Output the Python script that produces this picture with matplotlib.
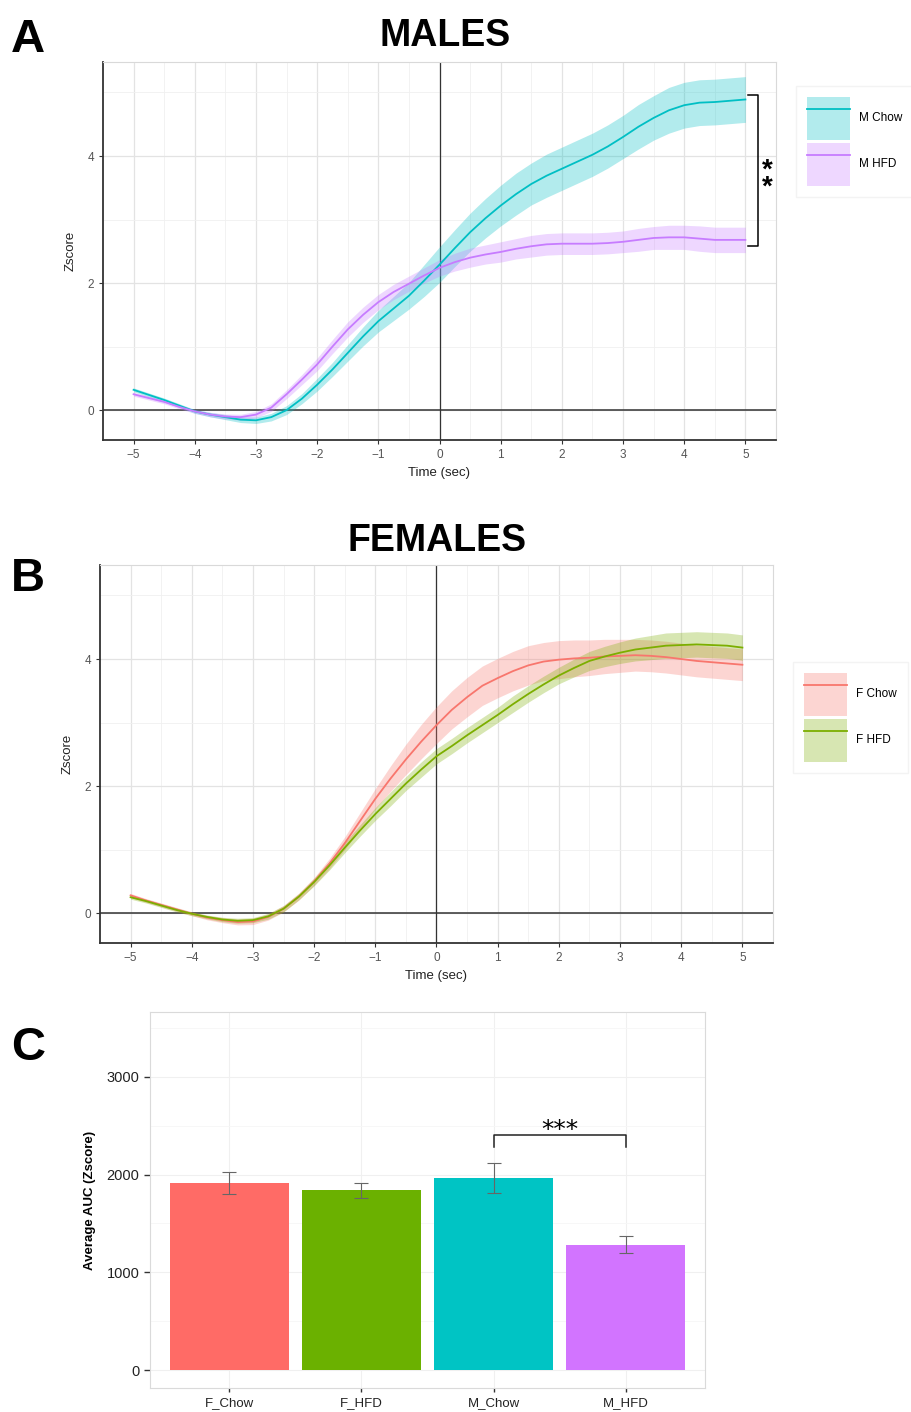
import matplotlib.pyplot as plt
from matplotlib.patches import Patch
from matplotlib.lines import Line2D
from matplotlib.ticker import MultipleLocator
import numpy as np

plt.rcParams['font.family'] = ['Liberation Sans', 'DejaVu Sans']

# time axis of the smoothed traces (sec)
time = [-5, -4.75, -4.5, -4.25, -4, -3.75, -3.5, -3.25, -3, -2.75, -2.5,
        -2.25, -2, -1.75, -1.5, -1.25, -1, -0.75, -0.5, -0.25, 0,
        0.25, 0.5, 0.75, 1, 1.25, 1.5, 1.75, 2, 2.25, 2.5,
        2.75, 3, 3.25, 3.5, 3.75, 4, 4.25, 4.5, 4.75, 5]

# males: mean z-score and band half width
m_chow = [0.32, 0.24, 0.16, 0.07, -0.02, -0.07, -0.11, -0.15, -0.16, -0.11, 0.00,
          0.18, 0.40, 0.64, 0.90, 1.16, 1.40, 1.60, 1.80, 2.04, 2.29,
          2.55, 2.80, 3.02, 3.22, 3.40, 3.56, 3.69, 3.80, 3.91, 4.02,
          4.15, 4.30, 4.46, 4.60, 4.72, 4.80, 4.84, 4.85, 4.87, 4.89]
m_chow_se = [0.03, 0.03, 0.03, 0.03, 0.03, 0.035, 0.04, 0.045, 0.05, 0.06, 0.07,
             0.08, 0.10, 0.11, 0.13, 0.15, 0.17, 0.19, 0.21, 0.25, 0.28,
             0.29, 0.30, 0.31, 0.32, 0.33, 0.33, 0.34, 0.34, 0.34, 0.34,
             0.34, 0.34, 0.35, 0.35, 0.36, 0.36, 0.36, 0.36, 0.36, 0.36]
m_hfd = [0.25, 0.19, 0.13, 0.05, -0.02, -0.07, -0.10, -0.11, -0.07, 0.04, 0.25,
         0.48, 0.72, 1.00, 1.27, 1.50, 1.70, 1.86, 1.99, 2.12, 2.24,
         2.33, 2.40, 2.45, 2.49, 2.54, 2.58, 2.61, 2.62, 2.62, 2.62,
         2.63, 2.65, 2.68, 2.71, 2.72, 2.72, 2.70, 2.68, 2.68, 2.68]
m_hfd_se = [0.03, 0.03, 0.03, 0.03, 0.03, 0.035, 0.04, 0.045, 0.05, 0.06, 0.07,
            0.08, 0.10, 0.11, 0.12, 0.12, 0.12, 0.12, 0.12, 0.12, 0.13,
            0.14, 0.15, 0.15, 0.16, 0.16, 0.17, 0.17, 0.17, 0.17, 0.17,
            0.17, 0.17, 0.18, 0.18, 0.19, 0.19, 0.20, 0.20, 0.20, 0.20]

# females
f_chow = [0.28, 0.20, 0.13, 0.06, -0.01, -0.07, -0.11, -0.14, -0.13, -0.06, 0.07,
          0.26, 0.50, 0.78, 1.10, 1.45, 1.80, 2.12, 2.42, 2.70, 2.96,
          3.20, 3.40, 3.58, 3.70, 3.81, 3.90, 3.96, 3.99, 4.01, 4.02,
          4.04, 4.05, 4.06, 4.05, 4.03, 4.00, 3.97, 3.95, 3.93, 3.91]
f_chow_se = [0.03, 0.03, 0.03, 0.03, 0.03, 0.035, 0.04, 0.045, 0.05, 0.05, 0.05,
             0.055, 0.06, 0.08, 0.10, 0.13, 0.16, 0.20, 0.24, 0.27, 0.29,
             0.30, 0.31, 0.31, 0.31, 0.31, 0.31, 0.30, 0.30, 0.29, 0.28,
             0.27, 0.26, 0.25, 0.25, 0.25, 0.25, 0.25, 0.25, 0.25, 0.25]
f_hfd = [0.25, 0.19, 0.12, 0.05, -0.01, -0.06, -0.10, -0.12, -0.11, -0.05, 0.07,
         0.26, 0.49, 0.75, 1.03, 1.30, 1.56, 1.80, 2.04, 2.26, 2.47,
         2.63, 2.80, 2.96, 3.12, 3.29, 3.45, 3.60, 3.74, 3.86, 3.97,
         4.04, 4.10, 4.15, 4.18, 4.21, 4.22, 4.23, 4.22, 4.21, 4.18]
f_hfd_se = [0.03, 0.03, 0.03, 0.03, 0.03, 0.03, 0.035, 0.04, 0.04, 0.045, 0.05,
            0.05, 0.06, 0.07, 0.08, 0.09, 0.10, 0.11, 0.11, 0.12, 0.12,
            0.12, 0.12, 0.12, 0.12, 0.13, 0.13, 0.13, 0.13, 0.14, 0.15,
            0.16, 0.17, 0.18, 0.19, 0.20, 0.20, 0.20, 0.20, 0.20, 0.20]

# average AUC per group
groups = ['F_Chow', 'F_HFD', 'M_Chow', 'M_HFD']
auc = [1912, 1838, 1963, 1283]
auc_err = [115, 80, 155, 85]
bar_colors = ['#FF6B66', '#6BB100', '#00C4C4', '#D274FF']

C_MCHOW = '#00BFC4'
C_MHFD = '#C77CFF'
C_FCHOW = '#F8766D'
C_FHFD = '#7CAE00'

W, H = 911, 1412
fig = plt.figure(figsize=(W / 100, H / 100), dpi=100)


def px_axes(x0, y0, x1, y1):
    return fig.add_axes([x0 / W, 1 - y1 / H, (x1 - x0) / W, (y1 - y0) / H])


def trace_panel(ax, series):
    for mean, se, color in series:
        mean = np.array(mean)
        se = np.array(se)
        ax.fill_between(time, mean - se, mean + se, color=color, alpha=0.3,
                        lw=0, zorder=2)
        ax.plot(time, mean, color=color, lw=1.3, zorder=3)
    ax.axhline(0, color='#333333', lw=1.1, zorder=1.5)
    ax.axvline(0, color='#333333', lw=0.9, zorder=1.5)
    ax.set_xlim(-5.5, 5.5)
    ax.set_ylim(-0.47, 5.48)
    ax.xaxis.set_minor_locator(MultipleLocator(0.5))
    ax.yaxis.set_major_locator(MultipleLocator(2))
    ax.yaxis.set_minor_locator(MultipleLocator(1))
    ax.set_xticks(range(-5, 6))
    ax.set_xticklabels([str(t).replace('-', '\u2212') for t in range(-5, 6)])
    ax.grid(which='major', color='#E3E3E3', lw=0.9, zorder=0)
    ax.grid(which='minor', color='#F0F0F0', lw=0.6, zorder=0)
    ax.set_axisbelow(True)
    for s in ['left', 'bottom']:
        ax.spines[s].set_color('#333333')
        ax.spines[s].set_linewidth(1.3)
    for s in ['top', 'right']:
        ax.spines[s].set_color('#D9D9D9')
        ax.spines[s].set_linewidth(0.8)
    ax.tick_params(which='major', labelsize=8.5, labelcolor='#555555',
                   color='#333333', length=3)
    ax.tick_params(which='minor', length=0)
    ax.set_xlabel('Time (sec)', fontsize=9.5, color='#222222', labelpad=4)
    ax.set_ylabel('Zscore', fontsize=9.5, color='#222222', labelpad=8)


def trace_legend(labels, colors, x0, y0):
    handles = [(Patch(facecolor=c, alpha=0.3, edgecolor='none'),
                Line2D([], [], color=c, lw=1.3)) for c in colors]
    fig.legend(handles, labels, loc='upper left',
               bbox_to_anchor=(x0 / W, 1 - y0 / H), fontsize=8.5,
               handlelength=3.6, handleheight=5.2, labelspacing=0.25,
               handletextpad=0.8, borderpad=0.95, borderaxespad=0,
               frameon=True, edgecolor='#F0F0F0', fancybox=False)


# A: males
axA = px_axes(103, 62, 776, 440)
trace_panel(axA, [(m_chow, m_chow_se, C_MCHOW), (m_hfd, m_hfd_se, C_MHFD)])
top = m_chow[-1] + 0.07
bot = m_hfd[-1] - 0.1
axA.plot([5.05, 5.2, 5.2, 5.05], [top, top, bot, bot], color='black', lw=1.1,
         clip_on=False, zorder=4)
# two stacked stars beside the bracket
mid = (top + bot) / 2
axA.text(5.36, mid - 0.37, '*\n*', fontsize=20, fontweight='bold',
         linespacing=0.52, ha='center', va='baseline', clip_on=False)
trace_legend(['M Chow', 'M HFD'], [C_MCHOW, C_MHFD], 796, 86)
fig.text(445 / W, 1 - 36 / H, 'MALES', fontsize=27, fontweight='bold',
         ha='center', va='center')
fig.text(28 / W, 1 - 40 / H, 'A', fontsize=34, fontweight='bold',
         ha='center', va='center')

# B: females
axB = px_axes(100, 565, 773, 943)
trace_panel(axB, [(f_chow, f_chow_se, C_FCHOW), (f_hfd, f_hfd_se, C_FHFD)])
trace_legend(['F Chow', 'F HFD'], [C_FCHOW, C_FHFD], 793, 662)
fig.text(437 / W, 1 - 541 / H, 'FEMALES', fontsize=27, fontweight='bold',
         ha='center', va='center')
fig.text(28 / W, 1 - 579 / H, 'B', fontsize=34, fontweight='bold',
         ha='center', va='center')

# C: AUC bars
axC = px_axes(150, 1012, 705, 1388)
x = np.arange(len(groups))
axC.bar(x, auc, width=0.9, color=bar_colors, zorder=2, yerr=auc_err,
        capsize=5, error_kw=dict(ecolor='#666666', elinewidth=0.8,
                                 capthick=0.8, zorder=3))
axC.set_xlim(-0.6, 3.6)
axC.set_ylim(-184, 3664)
axC.set_xticks(x)
axC.set_xticklabels(groups)
axC.set_yticks([0, 1000, 2000, 3000])
axC.yaxis.set_minor_locator(MultipleLocator(500))
axC.grid(which='major', color='#F0F0F0', lw=0.8, zorder=0)
axC.grid(which='minor', axis='y', color='#F6F6F6', lw=0.6, zorder=0)
axC.set_axisbelow(True)
for s in axC.spines.values():
    s.set_color('#DADADA')
    s.set_linewidth(0.8)
axC.tick_params(which='major', labelsize=10.5, labelcolor='#222222',
                color='#333333', length=4, width=1)
axC.tick_params(axis='x', labelsize=9.5, length=3)
axC.tick_params(which='minor', length=0)
axC.set_ylabel('Average AUC (Zscore)', fontsize=9.5, fontweight='bold',
               labelpad=8)
b_top = 2405
b_bot = 2280
axC.plot([2, 2, 3, 3], [b_bot, b_top, b_top, b_bot], color='#222222', lw=1.1,
         zorder=4)
axC.text(2.5, b_top - 70, '***', fontsize=18, ha='center', va='bottom',
         family='DejaVu Sans')
fig.text(28 / W, 1 - 1048 / H, 'C', fontsize=34, fontweight='bold',
         ha='center', va='center')

fig.savefig('out.png', dpi=100)
